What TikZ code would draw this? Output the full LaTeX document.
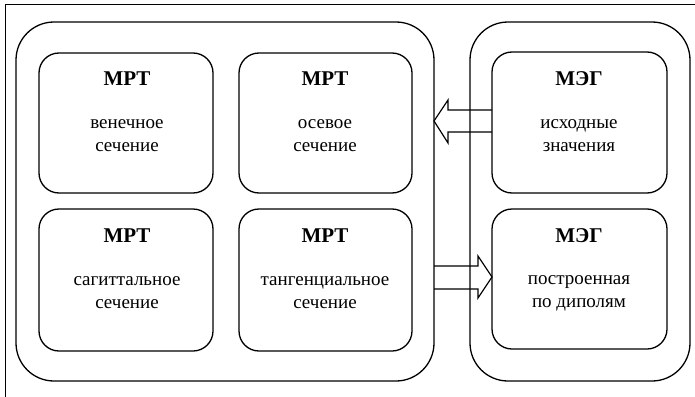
\documentclass[tikz,border=0pt]{standalone}
\usepackage{fontspec}
\setmainfont{Liberation Serif}
\newfontfamily\capfont{Liberation Serif}
\begin{document}
\begin{tikzpicture}[x=1pt,y=-1pt,
  group/.style={draw,line width=1.3pt,rounded corners=38pt},
  card/.style={draw,line width=1.3pt,rounded corners=20pt},
  label/.style={align=center,font=\capfont\fontsize{19}{23}\selectfont},
  title/.style={font=\capfont\bfseries\fontsize{21}{22}\selectfont},
  bigarrow/.style={draw,line width=1.2pt,line join=miter}]
\useasboundingbox (0,0) rectangle (695,396);
\draw[line width=1pt] (5,399) -- (5,5) -- (699,5);
% groups
\draw[group] (16,22) rectangle (434,381);
\draw[group] (470,22) rectangle (690,381);
% cards
\draw[card] (39,53) rectangle (213,193);
\draw[card] (239,53) rectangle (412,193);
\draw[card] (39,209) rectangle (213,351);
\draw[card] (239,209) rectangle (412,351);
\draw[card] (492,52) rectangle (667,193);
\draw[card] (492,209) rectangle (667,349);
% texts
\node[title] (h1) at (127,79) {МРТ};
\node[label] (t1) at (127,136) {венечное\\сечение};
\node[title] (h2) at (325,79) {МРТ};
\node[label] (t2) at (325,136) {осевое\\сечение};
\node[title] (h3) at (127,236) {МРТ};
\node[label] (t3) at (127,293) {сагиттальное\\сечение};
\node[title] (h4) at (325,236) {МРТ};
\node[label] (t4) at (325,293) {тангенциальное\\сечение};
\node[title] (h5) at (579,79) {МЭГ};
\node[label] (t5) at (579,136) {исходные\\значения};
\node[title] (h6) at (579,236) {МЭГ};
\node[label] (t6) at (579,293) {построенная\\по диполям};
% arrows
\draw[bigarrow] (492,110) -- (448,110) -- (448,100) -- (434,121) -- (448,143) -- (448,132) -- (492,132);
\draw[bigarrow] (434,266) -- (478,266) -- (478,256) -- (492,277) -- (478,298) -- (478,289) -- (434,289);
\end{tikzpicture}
\end{document}
